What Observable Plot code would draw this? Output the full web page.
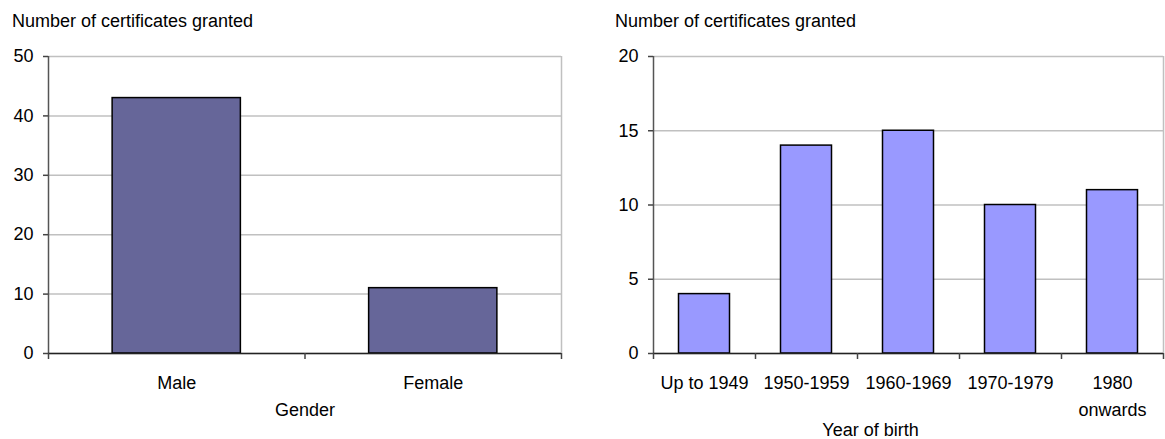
<!DOCTYPE html>
<html>
<head>
<meta charset="utf-8">
<script src="https://cdn.jsdelivr.net/npm/d3@7"></script>
<script src="https://cdn.jsdelivr.net/npm/@observablehq/plot@0.6"></script>
<style>
  html, body { margin: 0; padding: 0; background: #fff; }
  #root { position: relative; width: 1165px; height: 439px; font-family: "Liberation Sans", Arial, sans-serif; color: #000; }
  .title { position: absolute; top: 11px; font-size: 18px; line-height: normal; white-space: nowrap; }
  .chart { position: absolute; top: 0; }
</style>
</head>
<body>
<div id="root"></div>
<script>
// ---- data ----
const genderCategories = ["Male", "Female"];
const genderCounts = [43, 11];
const genderTicks = [0, 10, 20, 30, 40, 50];

const yearCategories = ["Up to 1949", "1950-1959", "1960-1969", "1970-1979", "1980\nonwards"];
const yearCounts = [4, 14, 15, 10, 11];
const yearTicks = [0, 5, 10, 15, 20];

const yTitle = "Number of certificates granted";

function chart({cats, counts, yTicks, fill, width, ml, mr, xLabel, labelDx, labelDy}) {
  const n = cats.length;
  const data = cats.map((c, i) => ({c, i, v: counts[i]}));
  return Plot.plot({
    width, height: 439,
    marginLeft: ml, marginRight: mr, marginTop: 56, marginBottom: 86,
    style: {fontFamily: '"Liberation Sans", Arial, sans-serif', fontSize: "18px", color: "#000", background: "white", overflow: "visible"},
    x: {type: "linear", domain: [0, n], axis: null},
    y: {domain: [0, d3.max(yTicks)], axis: null},
    marks: [
      Plot.gridY(yTicks, {stroke: "#c0c0c0", strokeOpacity: 1, strokeWidth: 1.5}),
      Plot.ruleX([n], {stroke: "#c0c0c0", strokeWidth: 1.5}),
      Plot.rectY(data, {x1: d => d.i + 0.25, x2: d => d.i + 0.75, y: "v", fill, stroke: "#000", strokeWidth: 1.5}),
      Plot.ruleX([0], {stroke: "#555", strokeWidth: 1.5}),
      Plot.ruleY([0], {stroke: "#222", strokeWidth: 1.5}),
      Plot.axisY(yTicks, {tickSize: 5, tickPadding: 10, stroke: "#444", strokeWidth: 1.5, fill: "#000", label: null, tickFormat: d => String(d)}),
      Plot.axisX(d3.range(n + 1), {tickSize: 6, stroke: "#444", strokeWidth: 1.5, tickFormat: () => "", label: null}),
      Plot.axisX(d3.range(n).map(i => i + 0.5), {tickSize: 0, tickPadding: 16, fill: "#000", lineHeight: 1.5, tickFormat: t => cats[Math.round(t - 0.5)], label: null}),
      Plot.text([xLabel], {text: d => d, frameAnchor: "bottom", dx: labelDx, dy: labelDy, lineAnchor: "middle", fill: "#000"})
    ]
  });
}

const root = document.getElementById("root");

const left = chart({cats: genderCategories, counts: genderCounts, yTicks: genderTicks, fill: "#666699",
  width: 580, ml: 48, mr: 19, xLabel: "Gender", labelDx: 0, labelDy: 57});
left.classList.add("chart");
left.style.left = "0px";
root.appendChild(left);

const right = chart({cats: yearCategories, counts: yearCounts, yTicks: yearTicks, fill: "#9999ff",
  width: 565, ml: 53, mr: 2, xLabel: "Year of birth", labelDx: -38, labelDy: 77});
right.classList.add("chart");
right.style.left = "600px";
root.appendChild(right);

for (const [x, t] of [[12, yTitle], [615, yTitle]]) {
  const d = document.createElement("div");
  d.className = "title";
  d.style.left = x + "px";
  d.textContent = t;
  root.appendChild(d);
}
</script>
</body>
</html>
